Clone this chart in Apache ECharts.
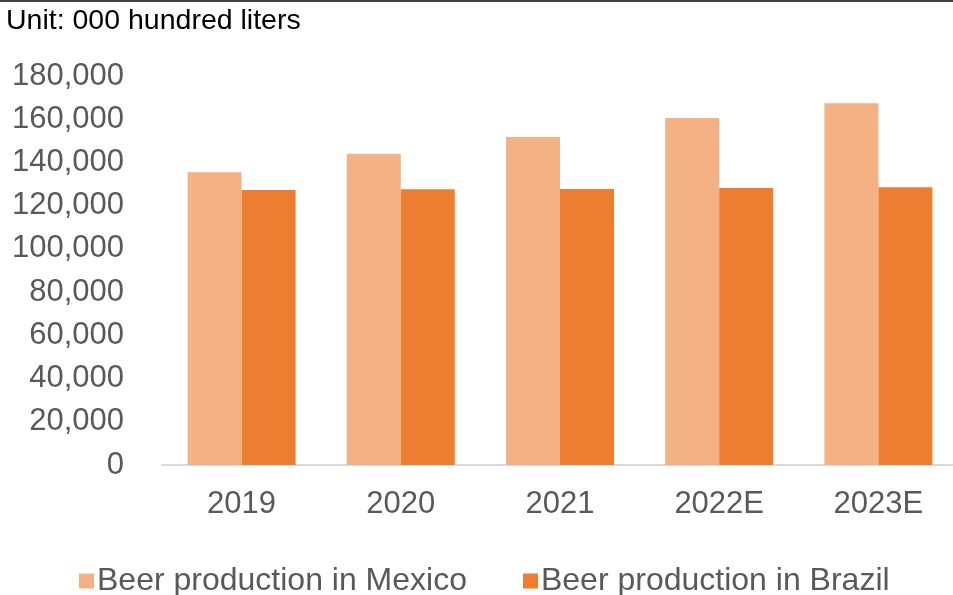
<!DOCTYPE html>
<html>
<head>
<meta charset="utf-8">
<script src="https://cdn.jsdelivr.net/npm/echarts@6/dist/echarts.min.js"></script>
<style>
html,body{margin:0;padding:0;background:#fff;overflow:hidden;width:953px;height:595px;}
#c{width:960px;height:595px;}
</style>
</head>
<body>
<div id="c"></div>
<script>
const categories = ['2019', '2020', '2021', '2022E', '2023E'];
const mexico = [135500, 144000, 151800, 160600, 167400];
const brazil = [127300, 127600, 127700, 128200, 128500];
const seriesNames = ['Beer production in Mexico', 'Beer production in Brazil'];
const unitText = 'Unit: 000 hundred liters';

const chart = echarts.init(document.getElementById('c'));
const font = 'Liberation Sans, Arial, sans-serif';
chart.setOption({
  animation: false,
  backgroundColor: '#ffffff',
  graphic: [
    { type: 'line', shape: { x1: 0, y1: 1, x2: 960, y2: 1 }, style: { stroke: '#404040', lineWidth: 2 } },
    { type: 'text', left: 6, top: 7, style: { text: unitText, fill: '#000000', font: '28.5px ' + font } }
  ],
  grid: { left: 162, right: 2, top: 76, bottom: 130, containLabel: false },
  legend: {
    left: 74, top: 560,
    itemWidth: 15, itemHeight: 15, itemGap: 56,
    icon: 'rect',
    textStyle: { fontSize: 32, color: '#595959', fontFamily: font, padding: [0, 0, 0, -2] },
    data: seriesNames
  },
  xAxis: {
    type: 'category',
    data: categories,
    axisLine: { lineStyle: { color: '#d9d9d9', width: 2 } },
    axisTick: { show: false },
    axisLabel: { fontSize: 31, color: '#595959', fontFamily: font, margin: 24 }
  },
  yAxis: {
    type: 'value',
    min: 0, max: 180000, interval: 20000,
    axisLine: { show: false },
    axisTick: { show: false },
    splitLine: { show: false },
    axisLabel: {
      fontSize: 31, color: '#595959', fontFamily: font, margin: 38,
      formatter: v => v.toLocaleString('en-US')
    }
  },
  series: [
    { name: seriesNames[0], type: 'bar', data: mexico, barWidth: 54, barGap: '0%', itemStyle: { color: '#f4b183' } },
    { name: seriesNames[1], type: 'bar', data: brazil, barWidth: 54, barGap: '0%', itemStyle: { color: '#ed7d31' } }
  ]
});
</script>
</body>
</html>
